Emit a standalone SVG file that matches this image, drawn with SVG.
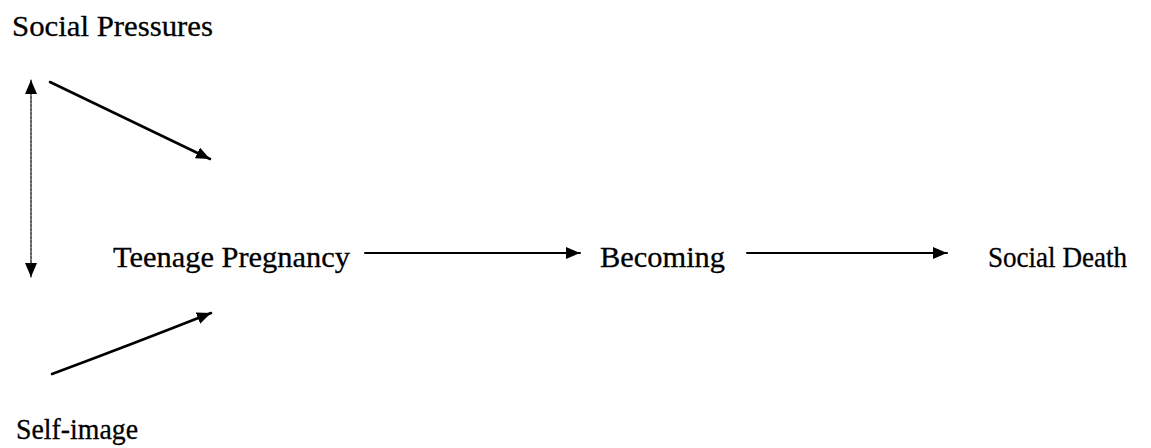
<svg xmlns="http://www.w3.org/2000/svg" width="1151" height="448" viewBox="0 0 1151 448">
  <style>
    .lbl { font-family: "Liberation Serif", "Times New Roman", serif; font-size: 30px; fill: #000; stroke: #000; stroke-width: 0.3px; }
    .edge { stroke: #000; fill: none; stroke-linecap: round; }
  </style>
  <defs>
    <marker id="head" viewBox="0 0 14 12" refX="14" refY="6" markerWidth="14" markerHeight="12" markerUnits="userSpaceOnUse" orient="auto-start-reverse">
      <path d="M0,0 L14,6 L0,12 Z" fill="#000"/>
    </marker>
  </defs>
  <rect width="1151" height="448" fill="#fff"/>

  <g id="connectors">
    <!-- two-way link between the two influences -->
    <line class="edge" x1="31" y1="80" x2="31" y2="277" stroke-width="1.2" stroke-dasharray="3,1" marker-start="url(#head)" marker-end="url(#head)"/>
    <!-- influences into the pregnancy -->
    <line class="edge" x1="50" y1="82" x2="210" y2="159" stroke-width="2.6" marker-end="url(#head)"/>
    <path class="edge" d="M52,374 Q130,345 211,313" stroke-width="2.6" marker-end="url(#head)"/>
    <!-- main chain -->
    <line class="edge" x1="365" y1="253" x2="580" y2="253" stroke-width="2" marker-end="url(#head)"/>
    <line class="edge" x1="747" y1="253" x2="947" y2="253" stroke-width="2" marker-end="url(#head)"/>
  </g>

  <g id="social-pressures"><text class="lbl" x="12" y="36" textLength="201" lengthAdjust="spacingAndGlyphs">Social Pressures</text></g>
  <g id="self-image"><text class="lbl" x="16" y="439" textLength="122" lengthAdjust="spacingAndGlyphs">Self-image</text></g>
  <g id="teenage-pregnancy"><text class="lbl" x="113" y="267" textLength="237" lengthAdjust="spacingAndGlyphs">Teenage Pregnancy</text></g>
  <g id="becoming"><text class="lbl" x="600" y="267" textLength="125" lengthAdjust="spacingAndGlyphs">Becoming</text></g>
  <g id="social-death"><text class="lbl" x="988" y="267" textLength="139" lengthAdjust="spacingAndGlyphs">Social Death</text></g>
</svg>
